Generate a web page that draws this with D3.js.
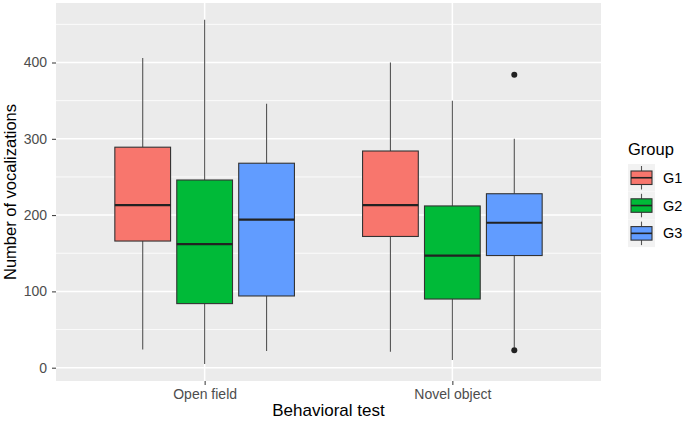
<!DOCTYPE html>
<html><head><meta charset="utf-8">
<script src="https://cdn.jsdelivr.net/npm/d3@7"></script>
<style>body{margin:0;background:#fff}svg{display:block;font-family:"Liberation Sans",Arial,sans-serif}</style>
</head><body><svg id="c" width="685" height="427"></svg>
<script>
const tests = ["Open field", "Novel object"];
const groups = ["G1", "G2", "G3"];
const colors = ["#F8766D", "#00BA38", "#619CFF"];
// [whiskerLow, q1, median, q3, whiskerHigh] per test, per group
const openField = [[24, 166, 213, 289, 406], [5, 84, 162, 246, 456], [22, 94, 194, 268, 346]];
const novelObject = [[21, 172, 213, 284, 400], [10, 90, 147, 212, 350], [26, 147, 190, 228, 300]];
const outliersOpen = [[], [], []];
const outliersNovel = [[], [], [384, 23]];
const yTicks = [0, 100, 200, 300, 400];
const yMinor = [50, 150, 250, 350, 450];

const stats = [openField, novelObject];
const outs = [outliersOpen, outliersNovel];

const svg = d3.select("#c");
const L = 56, R = 601, T = 3, B = 381;
const y = d3.scaleLinear().domain([0, 400]).range([367.7, 62.5]);
const x = d3.scalePoint().domain(tests).range([L, R]).padding(0.6);
const unit = x.step();
const xg = d3.scaleBand().domain(groups).range([-0.375 * unit, 0.375 * unit]).paddingInner(0.1).paddingOuter(0.05);

svg.append("rect").attr("x", L).attr("y", T).attr("width", R - L).attr("height", B - T).attr("fill", "#EBEBEB");
const grid = svg.append("g");
yMinor.forEach(v => grid.append("line").attr("x1", L).attr("x2", R).attr("y1", y(v)).attr("y2", y(v)).attr("stroke", "#fff").attr("stroke-width", 0.8));
yTicks.forEach(v => grid.append("line").attr("x1", L).attr("x2", R).attr("y1", y(v)).attr("y2", y(v)).attr("stroke", "#fff").attr("stroke-width", 1.5));
tests.forEach(t => { const cx = x(t); grid.append("line").attr("x1", cx).attr("x2", cx).attr("y1", T).attr("y2", B).attr("stroke", "#fff").attr("stroke-width", 1.5); });

const marks = svg.append("g");
tests.forEach((t, ti) => {
  const cx0 = x(t);
  groups.forEach((g, gi) => {
    const s = stats[ti][gi];
    const bx = cx0 + xg(g), bw = xg.bandwidth(), mx = bx + bw / 2;
    marks.append("line").attr("x1", mx).attr("x2", mx).attr("y1", y(s[4])).attr("y2", y(s[3])).attr("stroke", "#555").attr("stroke-width", 1.1);
    marks.append("line").attr("x1", mx).attr("x2", mx).attr("y1", y(s[1])).attr("y2", y(s[0])).attr("stroke", "#555").attr("stroke-width", 1.1);
    marks.append("rect").attr("x", bx).attr("y", y(s[3])).attr("width", bw).attr("height", y(s[1]) - y(s[3]))
      .attr("fill", colors[gi]).attr("stroke", "#333").attr("stroke-width", 1.1);
    marks.append("line").attr("x1", bx).attr("x2", bx + bw).attr("y1", y(s[2])).attr("y2", y(s[2])).attr("stroke", "#222").attr("stroke-width", 2.2);
    outs[ti][gi].forEach(o => marks.append("circle").attr("cx", mx).attr("cy", y(o)).attr("r", 3).attr("fill", "#222"));
  });
});

// axes
const ya = svg.append("g").attr("transform", `translate(${L},0)`).call(d3.axisLeft(y).tickValues(yTicks).tickSize(4).tickPadding(5));
ya.select(".domain").remove();
ya.selectAll("line").attr("stroke", "#333");
ya.selectAll("text").attr("fill", "#4D4D4D").style("font-size", "14px").style("font-family", "Liberation Sans, Arial, sans-serif");
const xa = svg.append("g").attr("transform", `translate(0,${B})`).call(d3.axisBottom(x).tickSize(4).tickPadding(4));
xa.select(".domain").remove();
xa.selectAll("line").attr("stroke", "#333");
xa.selectAll("text").attr("fill", "#4D4D4D").style("font-size", "14px").style("font-family", "Liberation Sans, Arial, sans-serif");

svg.append("text").attr("x", (L + R) / 2).attr("y", 416).attr("text-anchor", "middle").attr("font-size", 17).attr("fill", "#000").text("Behavioral test");
svg.append("text").attr("transform", `translate(16,${(T + B) / 2}) rotate(-90)`).attr("text-anchor", "middle").attr("font-size", 16.5).attr("fill", "#000").text("Number of vocalizations");

// legend
const lg = svg.append("g");
lg.append("text").attr("x", 628).attr("y", 155).attr("font-size", 16.5).attr("fill", "#000").text("Group");
groups.forEach((g, i) => {
  const ky = 164 + i * 27.8;
  lg.append("rect").attr("x", 628).attr("y", ky).attr("width", 27).attr("height", 27.5).attr("fill", "#F2F2F2");
  lg.append("line").attr("x1", 641.5).attr("x2", 641.5).attr("y1", ky + 2).attr("y2", ky + 25.5).attr("stroke", "#555").attr("stroke-width", 1.1);
  lg.append("rect").attr("x", 631).attr("y", ky + 7).attr("width", 21).attr("height", 13.5).attr("fill", colors[i]).attr("stroke", "#333").attr("stroke-width", 1.1);
  lg.append("line").attr("x1", 631).attr("x2", 652).attr("y1", ky + 13.75).attr("y2", ky + 13.75).attr("stroke", "#222").attr("stroke-width", 1.6);
  lg.append("text").attr("x", 663).attr("y", ky + 13.75).attr("dy", "0.35em").attr("font-size", 14.5).attr("fill", "#000").text(g);
});
</script></body></html>
